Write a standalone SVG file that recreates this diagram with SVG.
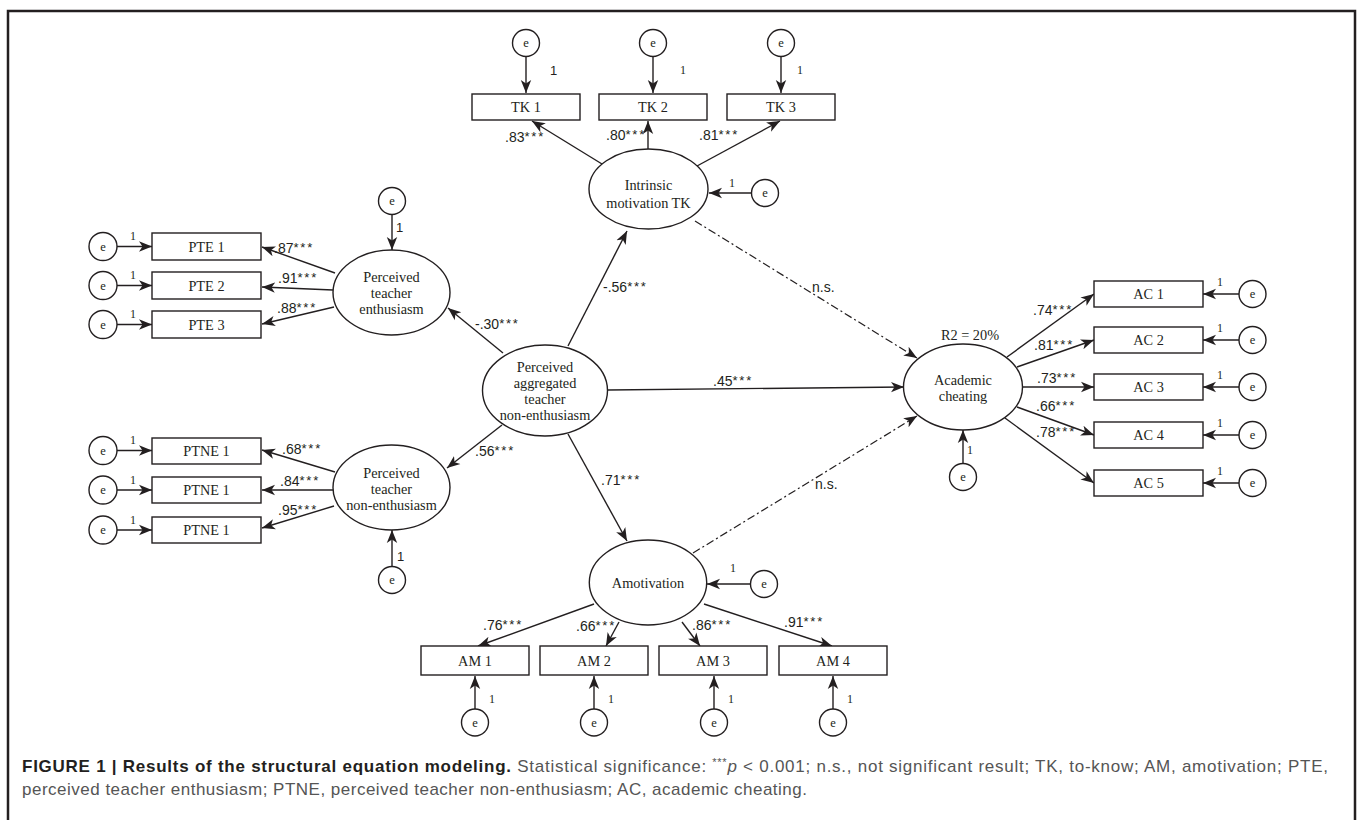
<svg xmlns="http://www.w3.org/2000/svg" width="1357" height="820" viewBox="0 0 1357 820">
<defs>
<marker id="ah" markerUnits="userSpaceOnUse" markerWidth="14" markerHeight="12" refX="13" refY="6" orient="auto">
<path d="M0,0.8 L13,6 L0,11.2 L3.5,6 Z" fill="#231f20"/>
</marker>
<style>
.ln{stroke:#231f20;stroke-width:1.4;fill:none}
.ar{stroke:#231f20;stroke-width:1.4;fill:none;marker-end:url(#ah)}
.dd{stroke:#231f20;stroke-width:1.2;fill:none;stroke-dasharray:8 3 2 3;marker-end:url(#ah)}
.bx{fill:#fff;stroke:#231f20;stroke-width:1.4}
.el{fill:#fff;stroke:#231f20;stroke-width:1.4}
.t{font-family:"Liberation Serif","Times New Roman",serif;font-size:14.3px;fill:#231f20;text-anchor:middle}
.e{font-family:"Liberation Serif","Times New Roman",serif;font-size:12.5px;fill:#231f20;text-anchor:middle}
.one{font-family:"Liberation Serif","Times New Roman",serif;font-size:12px;fill:#231f20}
.ones{font-family:"Liberation Sans",Arial,sans-serif;font-size:13px;fill:#231f20}
.c{font-family:"Liberation Sans",Arial,sans-serif;font-size:14px;fill:#231f20}
.st{font-size:13px;letter-spacing:1.8px}
.cap{font-family:"Liberation Sans",Arial,sans-serif;font-size:17px;fill:#555}
.capb{font-weight:bold;fill:#231f20}
</style>
</defs>
<rect x="0" y="0" width="1357" height="820" fill="#fff"/>
<path d="M8,830 V11 H1355 V830" fill="none" stroke="#231f20" stroke-width="2.5"/>

<g id="connectors">
<line class="ar" x1="526" y1="57" x2="526" y2="93"/>
<line class="ar" x1="653" y1="57" x2="653" y2="93"/>
<line class="ar" x1="781" y1="57" x2="781" y2="93"/>
<line class="ar" x1="602" y1="164" x2="532" y2="121"/>
<line class="ar" x1="648" y1="149" x2="648" y2="121"/>
<line class="ar" x1="697" y1="166" x2="780" y2="121"/>
<line class="ar" x1="752" y1="193" x2="709" y2="193"/>
<line class="ar" x1="117" y1="246.5" x2="152" y2="246.5"/>
<line class="ar" x1="117" y1="285.5" x2="152" y2="285.5"/>
<line class="ar" x1="117" y1="324.5" x2="152" y2="324.5"/>
<line class="ar" x1="335" y1="273" x2="262" y2="247"/>
<line class="ar" x1="333" y1="290" x2="262" y2="287"/>
<line class="ar" x1="334" y1="307" x2="262" y2="324"/>
<line class="ar" x1="392" y1="215" x2="392" y2="250"/>
<line class="ar" x1="117" y1="450.5" x2="152" y2="450.5"/>
<line class="ar" x1="117" y1="490" x2="152" y2="490"/>
<line class="ar" x1="117" y1="530" x2="152" y2="530"/>
<line class="ar" x1="335" y1="472" x2="262" y2="450"/>
<line class="ar" x1="333" y1="490" x2="262" y2="490"/>
<line class="ar" x1="334" y1="506" x2="262" y2="528"/>
<line class="ar" x1="392" y1="566" x2="392" y2="530"/>
<line class="ar" x1="503" y1="353" x2="448" y2="308"/>
<line class="ar" x1="502" y1="425" x2="447" y2="468"/>
<line class="ar" x1="568" y1="346" x2="627" y2="231"/>
<line class="ar" x1="568" y1="434" x2="627" y2="541"/>
<line class="ar" x1="608" y1="390" x2="904" y2="387"/>
<line class="dd" x1="695" y1="221" x2="917" y2="358"/>
<line class="dd" x1="693" y1="553" x2="917" y2="416"/>
<line class="ar" x1="963" y1="463" x2="963" y2="430"/>
<line class="ar" x1="1007" y1="357" x2="1094" y2="294"/>
<line class="ar" x1="1017" y1="367" x2="1094" y2="340"/>
<line class="ar" x1="1023" y1="387" x2="1094" y2="387"/>
<line class="ar" x1="1017" y1="407" x2="1094" y2="435"/>
<line class="ar" x1="1005" y1="418" x2="1094" y2="483"/>
<line class="ar" x1="1239" y1="294" x2="1203" y2="294"/>
<line class="ar" x1="1239" y1="340" x2="1203" y2="340"/>
<line class="ar" x1="1239" y1="387" x2="1203" y2="387"/>
<line class="ar" x1="1239" y1="435" x2="1203" y2="435"/>
<line class="ar" x1="1239" y1="483" x2="1203" y2="483"/>
<line class="ar" x1="750" y1="584" x2="707" y2="584"/>
<line class="ar" x1="594" y1="604" x2="478" y2="646"/>
<line class="ar" x1="619" y1="622" x2="606" y2="646"/>
<line class="ar" x1="682" y1="622" x2="700" y2="646"/>
<line class="ar" x1="704" y1="604" x2="832" y2="646"/>
<line class="ar" x1="475" y1="709" x2="475" y2="676"/>
<line class="ar" x1="594" y1="709" x2="594" y2="676"/>
<line class="ar" x1="714" y1="709" x2="714" y2="676"/>
<line class="ar" x1="833" y1="709" x2="833" y2="676"/>
</g>

<g id="labels">
<text class="c" x="505" y="142">.83<tspan class="st" dy="-1">***</tspan></text>
<text class="c" x="606" y="140">.80<tspan class="st" dy="-1">***</tspan></text>
<text class="c" x="699" y="140">.81<tspan class="st" dy="-1">***</tspan></text>
<text class="ones" x="550" y="75">1</text>
<text class="one" x="680" y="74">1</text>
<text class="one" x="797" y="74">1</text>
<text class="one" x="729" y="187">1</text>
<text class="c" x="274" y="253">.87<tspan class="st" dy="-1">***</tspan></text>
<text class="c" x="278" y="283">.91<tspan class="st" dy="-1">***</tspan></text>
<text class="c" x="277" y="313">.88<tspan class="st" dy="-1">***</tspan></text>
<text class="one" x="130" y="240">1</text>
<text class="one" x="130" y="279">1</text>
<text class="one" x="130" y="318">1</text>
<text class="ones" x="396" y="232">1</text>
<text class="c" x="282" y="454">.68<tspan class="st" dy="-1">***</tspan></text>
<text class="c" x="280" y="486">.84<tspan class="st" dy="-1">***</tspan></text>
<text class="c" x="278" y="515">.95<tspan class="st" dy="-1">***</tspan></text>
<text class="one" x="130" y="444">1</text>
<text class="one" x="130" y="484">1</text>
<text class="one" x="130" y="524">1</text>
<text class="ones" x="397" y="561">1</text>
<text class="c" x="475" y="329">-.30<tspan class="st" dy="-1">***</tspan></text>
<text class="c" x="475" y="456">.56<tspan class="st" dy="-1">***</tspan></text>
<text class="c" x="603" y="292">-.56<tspan class="st" dy="-1">***</tspan></text>
<text class="c" x="601" y="485">.71<tspan class="st" dy="-1">***</tspan></text>
<text class="c" x="713" y="386">.45<tspan class="st" dy="-1">***</tspan></text>
<text class="c" x="812" y="292">n.s.</text>
<text class="c" x="815" y="489">n.s.</text>
<text class="t" x="970" y="340">R2 = 20%</text>
<text class="one" x="967" y="454">1</text>
<text class="c" x="1033" y="315">.74<tspan class="st" dy="-1">***</tspan></text>
<text class="c" x="1034" y="350">.81<tspan class="st" dy="-1">***</tspan></text>
<text class="c" x="1037" y="383">.73<tspan class="st" dy="-1">***</tspan></text>
<text class="c" x="1036" y="411">.66<tspan class="st" dy="-1">***</tspan></text>
<text class="c" x="1036" y="437">.78<tspan class="st" dy="-1">***</tspan></text>
<text class="one" x="1217" y="286">1</text>
<text class="one" x="1217" y="332">1</text>
<text class="one" x="1217" y="379">1</text>
<text class="one" x="1217" y="427">1</text>
<text class="one" x="1217" y="475">1</text>
<text class="one" x="730" y="572">1</text>
<text class="c" x="483" y="630">.76<tspan class="st" dy="-1">***</tspan></text>
<text class="c" x="576" y="631">.66<tspan class="st" dy="-1">***</tspan></text>
<text class="c" x="692" y="630">.86<tspan class="st" dy="-1">***</tspan></text>
<text class="c" x="784" y="627">.91<tspan class="st" dy="-1">***</tspan></text>
<text class="one" x="489" y="703">1</text>
<text class="one" x="608" y="703">1</text>
<text class="one" x="728" y="703">1</text>
<text class="one" x="847" y="703">1</text>
</g>

<g id="tk1"><rect class="bx" x="472" y="94" width="108" height="26"/><text class="t" x="526" y="112">TK 1</text></g>
<g id="tk2"><rect class="bx" x="599" y="94" width="108" height="26"/><text class="t" x="653" y="112">TK 2</text></g>
<g id="tk3"><rect class="bx" x="727" y="94" width="108" height="26"/><text class="t" x="781" y="112">TK 3</text></g>
<g id="e_tk1"><circle class="el" cx="526" cy="43" r="13.5"/><text class="e" x="526" y="47">e</text></g>
<g id="e_tk2"><circle class="el" cx="653" cy="43" r="13.5"/><text class="e" x="653" y="47">e</text></g>
<g id="e_tk3"><circle class="el" cx="781" cy="43" r="13.5"/><text class="e" x="781" y="47">e</text></g>
<g id="intrinsic"><ellipse class="el" cx="648.5" cy="189" rx="59.5" ry="40"/><text class="t" x="648.5" y="190">Intrinsic</text><text class="t" x="648.5" y="208">motivation TK</text></g>
<g id="e_intr"><circle class="el" cx="765" cy="193" r="13.5"/><text class="e" x="765" y="197">e</text></g>

<g id="pte1"><rect class="bx" x="152" y="233" width="109" height="27"/><text class="t" x="206.5" y="251.5">PTE 1</text></g>
<g id="pte2"><rect class="bx" x="152" y="272" width="109" height="27"/><text class="t" x="206.5" y="290.5">PTE 2</text></g>
<g id="pte3"><rect class="bx" x="152" y="311" width="109" height="27"/><text class="t" x="206.5" y="329.5">PTE 3</text></g>
<g id="e_pte1"><circle class="el" cx="103" cy="246.5" r="14"/><text class="e" x="103" y="250.5">e</text></g>
<g id="e_pte2"><circle class="el" cx="103" cy="285.5" r="14"/><text class="e" x="103" y="289.5">e</text></g>
<g id="e_pte3"><circle class="el" cx="103" cy="324.5" r="14"/><text class="e" x="103" y="328.5">e</text></g>
<g id="pte"><ellipse class="el" cx="391.5" cy="292.5" rx="58.5" ry="42.5"/><text class="t" x="391.5" y="282">Perceived</text><text class="t" x="391.5" y="298">teacher</text><text class="t" x="391.5" y="314">enthusiasm</text></g>
<g id="e_pte"><circle class="el" cx="392" cy="201" r="13.5"/><text class="e" x="392" y="205">e</text></g>

<g id="ptne1"><rect class="bx" x="152" y="438" width="109" height="26"/><text class="t" x="206.5" y="456">PTNE 1</text></g>
<g id="ptne2"><rect class="bx" x="152" y="477" width="109" height="26"/><text class="t" x="206.5" y="495">PTNE 1</text></g>
<g id="ptne3"><rect class="bx" x="152" y="517" width="109" height="26"/><text class="t" x="206.5" y="535">PTNE 1</text></g>
<g id="e_ptne1"><circle class="el" cx="103" cy="450.5" r="14"/><text class="e" x="103" y="454.5">e</text></g>
<g id="e_ptne2"><circle class="el" cx="103" cy="490" r="14"/><text class="e" x="103" y="494">e</text></g>
<g id="e_ptne3"><circle class="el" cx="103" cy="530" r="14"/><text class="e" x="103" y="534">e</text></g>
<g id="ptne"><ellipse class="el" cx="391.5" cy="487.5" rx="58.5" ry="42.5"/><text class="t" x="391.5" y="477.5">Perceived</text><text class="t" x="391.5" y="494">teacher</text><text class="t" x="391.5" y="510">non-enthusiasm</text></g>
<g id="e_ptne"><circle class="el" cx="392" cy="580" r="13.5"/><text class="e" x="392" y="584">e</text></g>

<g id="aggregated"><ellipse class="el" cx="545" cy="390.5" rx="62.5" ry="45.5"/><text class="t" x="545" y="371.5">Perceived</text><text class="t" x="545" y="388">aggregated</text><text class="t" x="545" y="404">teacher</text><text class="t" x="545" y="420">non-enthusiasm</text></g>

<g id="academic"><ellipse class="el" cx="963" cy="387" rx="59.5" ry="43"/><text class="t" x="963" y="385">Academic</text><text class="t" x="963" y="401">cheating</text></g>
<g id="e_ac"><circle class="el" cx="963" cy="477" r="13.5"/><text class="e" x="963" y="481">e</text></g>
<g id="ac1"><rect class="bx" x="1094" y="281" width="109" height="26"/><text class="t" x="1148.5" y="299">AC 1</text></g>
<g id="ac2"><rect class="bx" x="1094" y="327" width="109" height="26"/><text class="t" x="1148.5" y="345">AC 2</text></g>
<g id="ac3"><rect class="bx" x="1094" y="374" width="109" height="26"/><text class="t" x="1148.5" y="392">AC 3</text></g>
<g id="ac4"><rect class="bx" x="1094" y="422" width="109" height="26"/><text class="t" x="1148.5" y="440">AC 4</text></g>
<g id="ac5"><rect class="bx" x="1094" y="470" width="109" height="26"/><text class="t" x="1148.5" y="488">AC 5</text></g>
<g id="e_ac1"><circle class="el" cx="1252.5" cy="294" r="13.5"/><text class="e" x="1252.5" y="298">e</text></g>
<g id="e_ac2"><circle class="el" cx="1252.5" cy="340" r="13.5"/><text class="e" x="1252.5" y="344">e</text></g>
<g id="e_ac3"><circle class="el" cx="1252.5" cy="387" r="13.5"/><text class="e" x="1252.5" y="391">e</text></g>
<g id="e_ac4"><circle class="el" cx="1252.5" cy="435" r="13.5"/><text class="e" x="1252.5" y="439">e</text></g>
<g id="e_ac5"><circle class="el" cx="1252.5" cy="483" r="13.5"/><text class="e" x="1252.5" y="487">e</text></g>

<g id="amotivation"><ellipse class="el" cx="648" cy="582.5" rx="58.7" ry="42.5"/><text class="t" x="648" y="587.5">Amotivation</text></g>
<g id="e_amot"><circle class="el" cx="764" cy="584" r="13.5"/><text class="e" x="764" y="588">e</text></g>
<g id="am1"><rect class="bx" x="421" y="646" width="108" height="29"/><text class="t" x="475" y="665.5">AM 1</text></g>
<g id="am2"><rect class="bx" x="540" y="646" width="108" height="29"/><text class="t" x="594" y="665.5">AM 2</text></g>
<g id="am3"><rect class="bx" x="659" y="646" width="108" height="29"/><text class="t" x="713" y="665.5">AM 3</text></g>
<g id="am4"><rect class="bx" x="779" y="646" width="108" height="29"/><text class="t" x="833" y="665.5">AM 4</text></g>
<g id="e_am1"><circle class="el" cx="475" cy="722.5" r="13.5"/><text class="e" x="475" y="726.5">e</text></g>
<g id="e_am2"><circle class="el" cx="594" cy="722.5" r="13.5"/><text class="e" x="594" y="726.5">e</text></g>
<g id="e_am3"><circle class="el" cx="714" cy="722.5" r="13.5"/><text class="e" x="714" y="726.5">e</text></g>
<g id="e_am4"><circle class="el" cx="833" cy="722.5" r="13.5"/><text class="e" x="833" y="726.5">e</text></g>

<g id="caption">
<text class="cap" x="22" y="772" textLength="1306" lengthAdjust="spacing"><tspan class="capb">FIGURE 1 | Results of the structural equation modeling.</tspan> Statistical significance: <tspan font-size="11" dy="-6">***</tspan><tspan dy="6" font-style="italic">p</tspan> &lt; 0.001; n.s., not significant result; TK, to-know; AM, amotivation; PTE,</text>
<text class="cap" x="22" y="795" textLength="785" lengthAdjust="spacing">perceived teacher enthusiasm; PTNE, perceived teacher non-enthusiasm; AC, academic cheating.</text>
</g>
</svg>
